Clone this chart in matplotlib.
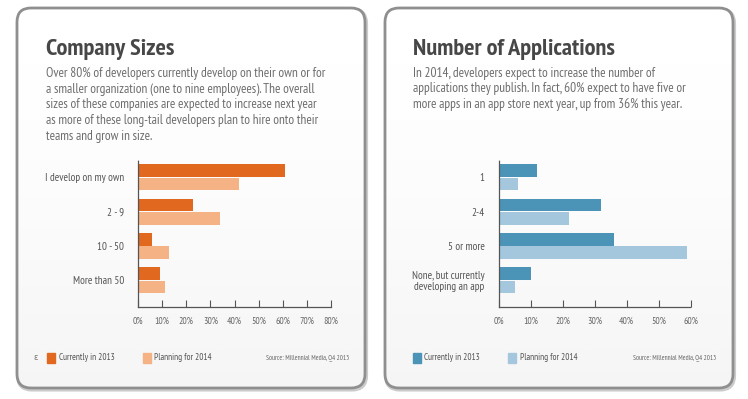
import numpy as np
import matplotlib.pyplot as plt
from matplotlib import font_manager as fm
from matplotlib.patches import FancyBboxPatch, Rectangle

# ------------------- данные -------------------
size_labels = ['I develop on my own', '2 - 9', '10 - 50', 'More than 50']
size_2013 = [61, 23, 6, 9]
size_2014 = [42, 34, 13, 11]

apps_labels = ['1', '2-4', '5 or more', 'None, but currently\ndeveloping an app']
apps_2013 = [12, 32, 36, 10]
apps_2014 = [6, 22, 59, 5]

size_ticks = [0, 10, 20, 30, 40, 50, 60, 70, 80]
apps_ticks = [0, 10, 20, 30, 40, 50, 60]

size_text = ['Over 80% of developers currently develop on their own or for',
             'a smaller organization (one to nine employees). The overall',
             'sizes of these companies are expected to increase next year',
             'as more of these long-tail developers plan to hire onto their',
             'teams and grow in size.']
apps_text = ['In 2014, developers expect to increase the number of',
             'applications they publish. In fact, 60% expect to have five or',
             'more apps in an app store next year, up from 36% this year.']

ORANGE_DARK = '#e1681f'
ORANGE_LIGHT = '#f5b285'
BLUE_DARK = '#4b93b7'
BLUE_LIGHT = '#a5c7dd'
TITLE_C = '#474747'
TEXT_C = '#6e6e6e'

# узкий шрифт, похожий на Myriad Condensed
installed = {f.name for f in fm.fontManager.ttflist}
candidates = ['PT Sans Narrow', 'Open Sans Condensed', 'Encode Sans Condensed', 'Fira Sans Condensed',
              'Roboto Condensed', 'Archivo Narrow', 'Asap Condensed', 'IBM Plex Sans Condensed',
              'Liberation Sans Narrow', 'Source Sans 3', 'Roboto']
FONT = next((c for c in candidates if c in installed), 'DejaVu Sans')
plt.rcParams['font.family'] = [FONT, 'DejaVu Sans']

W, H = 748, 399
fig = plt.figure(figsize=(W / 100, H / 100), dpi=100)
fig.patch.set_facecolor('white')
renderer = fig.canvas.get_renderer()


def fx(x):
    return x / W


def fy(y):
    return 1 - y / H


def fit_size(s, width, **kw):
    # подбираем размер шрифта под ширину текста в пикселях
    t = fig.text(0, 0, s, fontsize=10, **kw)
    w = t.get_window_extent(renderer).width
    t.remove()
    return 10 * width / w


# фон: панели с закруглёнными углами и градиентом
bg = fig.add_axes([0, 0, 1, 1], zorder=0)
bg.set_xlim(0, W)
bg.set_ylim(H, 0)
bg.axis('off')

grad = np.linspace(0, 1, 256) ** 1.6
grad = np.tile(grad[:, None], (1, 2))
for x0 in (17, 385):
    shadow = FancyBboxPatch((x0 + 1, 9.5), 348, 380, boxstyle='round,pad=0,rounding_size=14',
                            facecolor='none', edgecolor='#cccccc', linewidth=3)
    bg.add_patch(shadow)
    box = FancyBboxPatch((x0, 8), 348, 380, boxstyle='round,pad=0,rounding_size=14',
                         facecolor='none', edgecolor='#8f8f8f', linewidth=2, zorder=3)
    bg.add_patch(box)
    im = bg.imshow(grad, extent=(x0, x0 + 348, 388, 8), cmap='Greys', vmin=0, vmax=12,
                   aspect='auto', zorder=1, interpolation='bilinear')
    im.set_clip_path(box)

label_fs = fit_size('I develop on my own', 79)
tick_fs = fit_size('80%', 15)


def draw_panel(rect, labels, cur, plan, c_dark, c_light, ticks):
    ax = fig.add_axes(rect, zorder=2)
    ax.patch.set_alpha(0)
    y = np.arange(len(labels))
    h = 0.37
    ax.barh(y - 0.195, cur, height=h, color=c_dark)
    ax.barh(y + 0.195, plan, height=h, color=c_light)
    ax.set_xlim(ticks[0], ticks[-1])
    ax.set_ylim(len(labels) - 1 + 0.78, -0.51)
    ax.set_yticks(y)
    ax.set_yticklabels(labels, fontsize=label_fs, color='#555555', linespacing=1.15)
    ax.set_xticks(ticks)
    ax.set_xticklabels([f'{t}%' for t in ticks], fontsize=tick_fs, color='#666666')
    ax.tick_params(axis='y', length=0, pad=10)
    ax.tick_params(axis='x', direction='in', length=5, width=0.8, color='#555555', pad=7)
    for s in ('top', 'right'):
        ax.spines[s].set_visible(False)
    for s in ('left', 'bottom'):
        ax.spines[s].set_linestyle((0, (1, 1)))
        ax.spines[s].set_color('#555555')
        ax.spines[s].set_linewidth(0.9)
    return ax


draw_panel([fx(138), fy(307), fx(331) - fx(138), fy(160) - fy(307)],
           size_labels, size_2013, size_2014, ORANGE_DARK, ORANGE_LIGHT, size_ticks)
draw_panel([fx(498.5), fy(307), fx(690.5) - fx(498.5), fy(160) - fy(307)],
           apps_labels, apps_2013, apps_2014, BLUE_DARK, BLUE_LIGHT, apps_ticks)

# заголовки и текст
title_fs = fit_size('Company Sizes', 129, fontweight='bold')
fig.text(fx(46), fy(55), 'Company Sizes', fontsize=title_fs, fontweight='bold',
         color=TITLE_C, va='baseline')
fig.text(fx(413), fy(55), 'Number of Applications', fontsize=title_fs, fontweight='bold',
         color=TITLE_C, va='baseline')

body_fs = fit_size(size_text[0], 281)
for i, line in enumerate(size_text):
    fig.text(fx(46), fy(77 + 15.7 * i), line, fontsize=body_fs, color=TEXT_C, va='baseline')
for i, line in enumerate(apps_text):
    fig.text(fx(413), fy(77 + 15.3 * i), line, fontsize=body_fs, color=TEXT_C, va='baseline')

# легенды
leg_fs = fit_size('Currently in 2013', 56)
src_fs = fit_size('Source: Millennial Media, Q4 2013', 84)
fig.text(fx(33), fy(358), 'ε', fontsize=6, color='#777777', va='center')
for x0, c_dark, c_light in ((47.5, ORANGE_DARK, ORANGE_LIGHT), (413, BLUE_DARK, BLUE_LIGHT)):
    bg.add_patch(Rectangle((x0, 353), 8, 10, color=c_dark, zorder=4))
    fig.text(fx(x0 + 11.5), fy(358), 'Currently in 2013', fontsize=leg_fs, color='#555555', va='center')
    bg.add_patch(Rectangle((x0 + 95.5, 353), 8, 10, color=c_light, zorder=4))
    fig.text(fx(x0 + 107), fy(358), 'Planning for 2014', fontsize=leg_fs, color='#555555', va='center')

fig.text(fx(349), fy(358), 'Source: Millennial Media, Q4 2013', fontsize=src_fs, color='#666666',
         va='center', ha='right')
fig.text(fx(716), fy(358), 'Source: Millennial Media, Q4 2013', fontsize=src_fs, color='#666666',
         va='center', ha='right')

plt.savefig('out.png', dpi=100)
